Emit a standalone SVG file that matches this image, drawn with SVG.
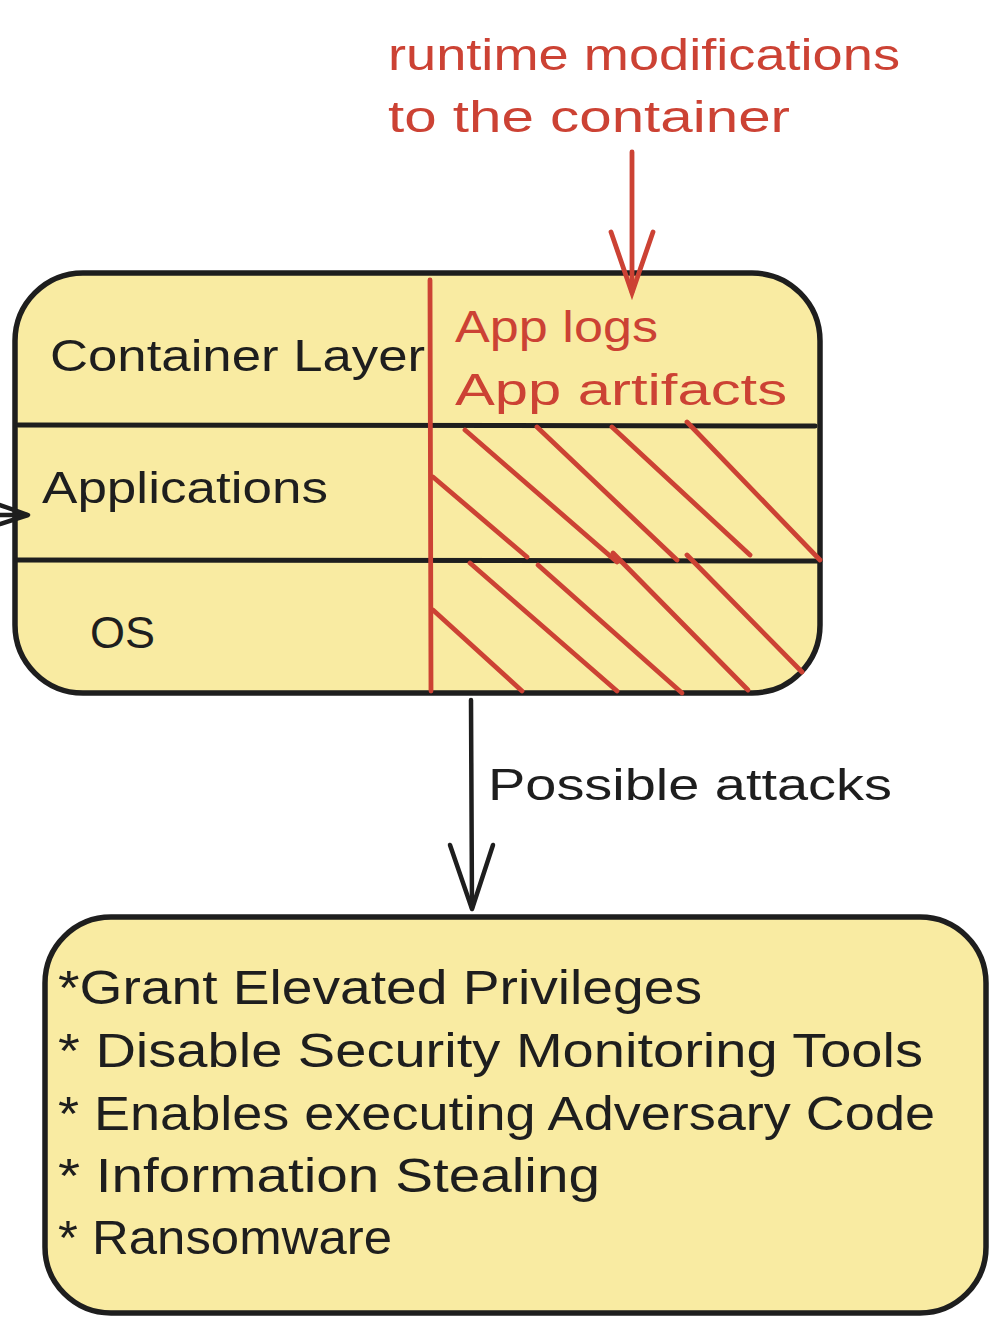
<svg xmlns="http://www.w3.org/2000/svg" width="997" height="1342" viewBox="0 0 997 1342">
<style>
.box{fill:#f9eba2;stroke:#1e1e1e;stroke-width:5.5}
.div{stroke:#1e1e1e;stroke-width:5;stroke-linecap:round;fill:none}
.red{stroke:#cc4234;stroke-width:4.8;stroke-linecap:round;fill:none}
.blk{stroke:#1e1e1e;stroke-width:4.5;stroke-linecap:round;stroke-linejoin:round;fill:none}
.t{font-family:"Liberation Sans",Arial,sans-serif;font-size:44px;fill:#1e1e1e}
.tr{font-family:"Liberation Sans",Arial,sans-serif;font-size:44px;fill:#cc4234}
.tb{font-family:"Liberation Sans",Arial,sans-serif;font-size:48px;fill:#1e1e1e}
</style>
<g id="annotation">
<text class="tr" x="388" y="70" textLength="512" lengthAdjust="spacingAndGlyphs">runtime modifications</text>
<text class="tr" x="388" y="132" textLength="402" lengthAdjust="spacingAndGlyphs">to the container</text>
</g>
<g id="container">
<rect class="box" x="15" y="273" width="805" height="420" rx="68" ry="68"/>
<line class="div" x1="18" y1="425" x2="815" y2="426"/>
<line class="div" x1="17" y1="560" x2="820" y2="561"/>
<text class="t" x="50" y="371" textLength="375" lengthAdjust="spacingAndGlyphs">Container Layer</text>
<text class="t" x="42" y="503" textLength="286" lengthAdjust="spacingAndGlyphs">Applications</text>
<text class="t" x="90" y="648" textLength="65" lengthAdjust="spacingAndGlyphs">OS</text>
<line class="red" x1="430" y1="280" x2="431" y2="691"/>
<g id="hatch">
<line class="red" x1="433" y1="477" x2="527" y2="557"/>
<line class="red" x1="465" y1="430" x2="617" y2="562"/>
<line class="red" x1="537" y1="427" x2="677" y2="560"/>
<line class="red" x1="612" y1="427" x2="750" y2="555"/>
<line class="red" x1="687" y1="422" x2="820" y2="560"/>
<line class="red" x1="433" y1="610" x2="522" y2="691"/>
<line class="red" x1="470" y1="563" x2="617" y2="691"/>
<line class="red" x1="538" y1="565" x2="682" y2="693"/>
<line class="red" x1="613" y1="553" x2="748" y2="690"/>
<line class="red" x1="687" y1="555" x2="802" y2="672"/>
</g>
<text class="tr" x="455" y="342" textLength="203" lengthAdjust="spacingAndGlyphs">App logs</text>
<text class="tr" x="455" y="405" textLength="332" lengthAdjust="spacingAndGlyphs">App artifacts</text>
</g>
<g id="attacks">
<rect class="box" x="45" y="917" width="941" height="396" rx="66" ry="66"/>
<text class="tb" x="58" y="1004" textLength="644" lengthAdjust="spacingAndGlyphs">*Grant Elevated Privileges</text>
<text class="tb" x="58" y="1067" textLength="865" lengthAdjust="spacingAndGlyphs">* Disable Security Monitoring Tools</text>
<text class="tb" x="58" y="1130" textLength="877" lengthAdjust="spacingAndGlyphs">* Enables executing Adversary Code</text>
<text class="tb" x="58" y="1192" textLength="542" lengthAdjust="spacingAndGlyphs">* Information Stealing</text>
<text class="tb" x="58" y="1254" textLength="334" lengthAdjust="spacingAndGlyphs">* Ransomware</text>
</g>
<g id="connectors">
<line class="red" x1="632" y1="152" x2="632" y2="292"/>
<polyline class="red" points="611,232 632,293 653,232"/>
<line class="blk" x1="471" y1="700" x2="472" y2="908"/>
<polyline class="blk" points="450,845 472,909 493,845"/>
<text class="t" x="488" y="800" textLength="404" lengthAdjust="spacingAndGlyphs">Possible attacks</text>
<line class="blk" x1="-10" y1="515" x2="27" y2="515"/>
<polyline class="blk" points="0,505 28,515 0,524"/>
</g>
</svg>
